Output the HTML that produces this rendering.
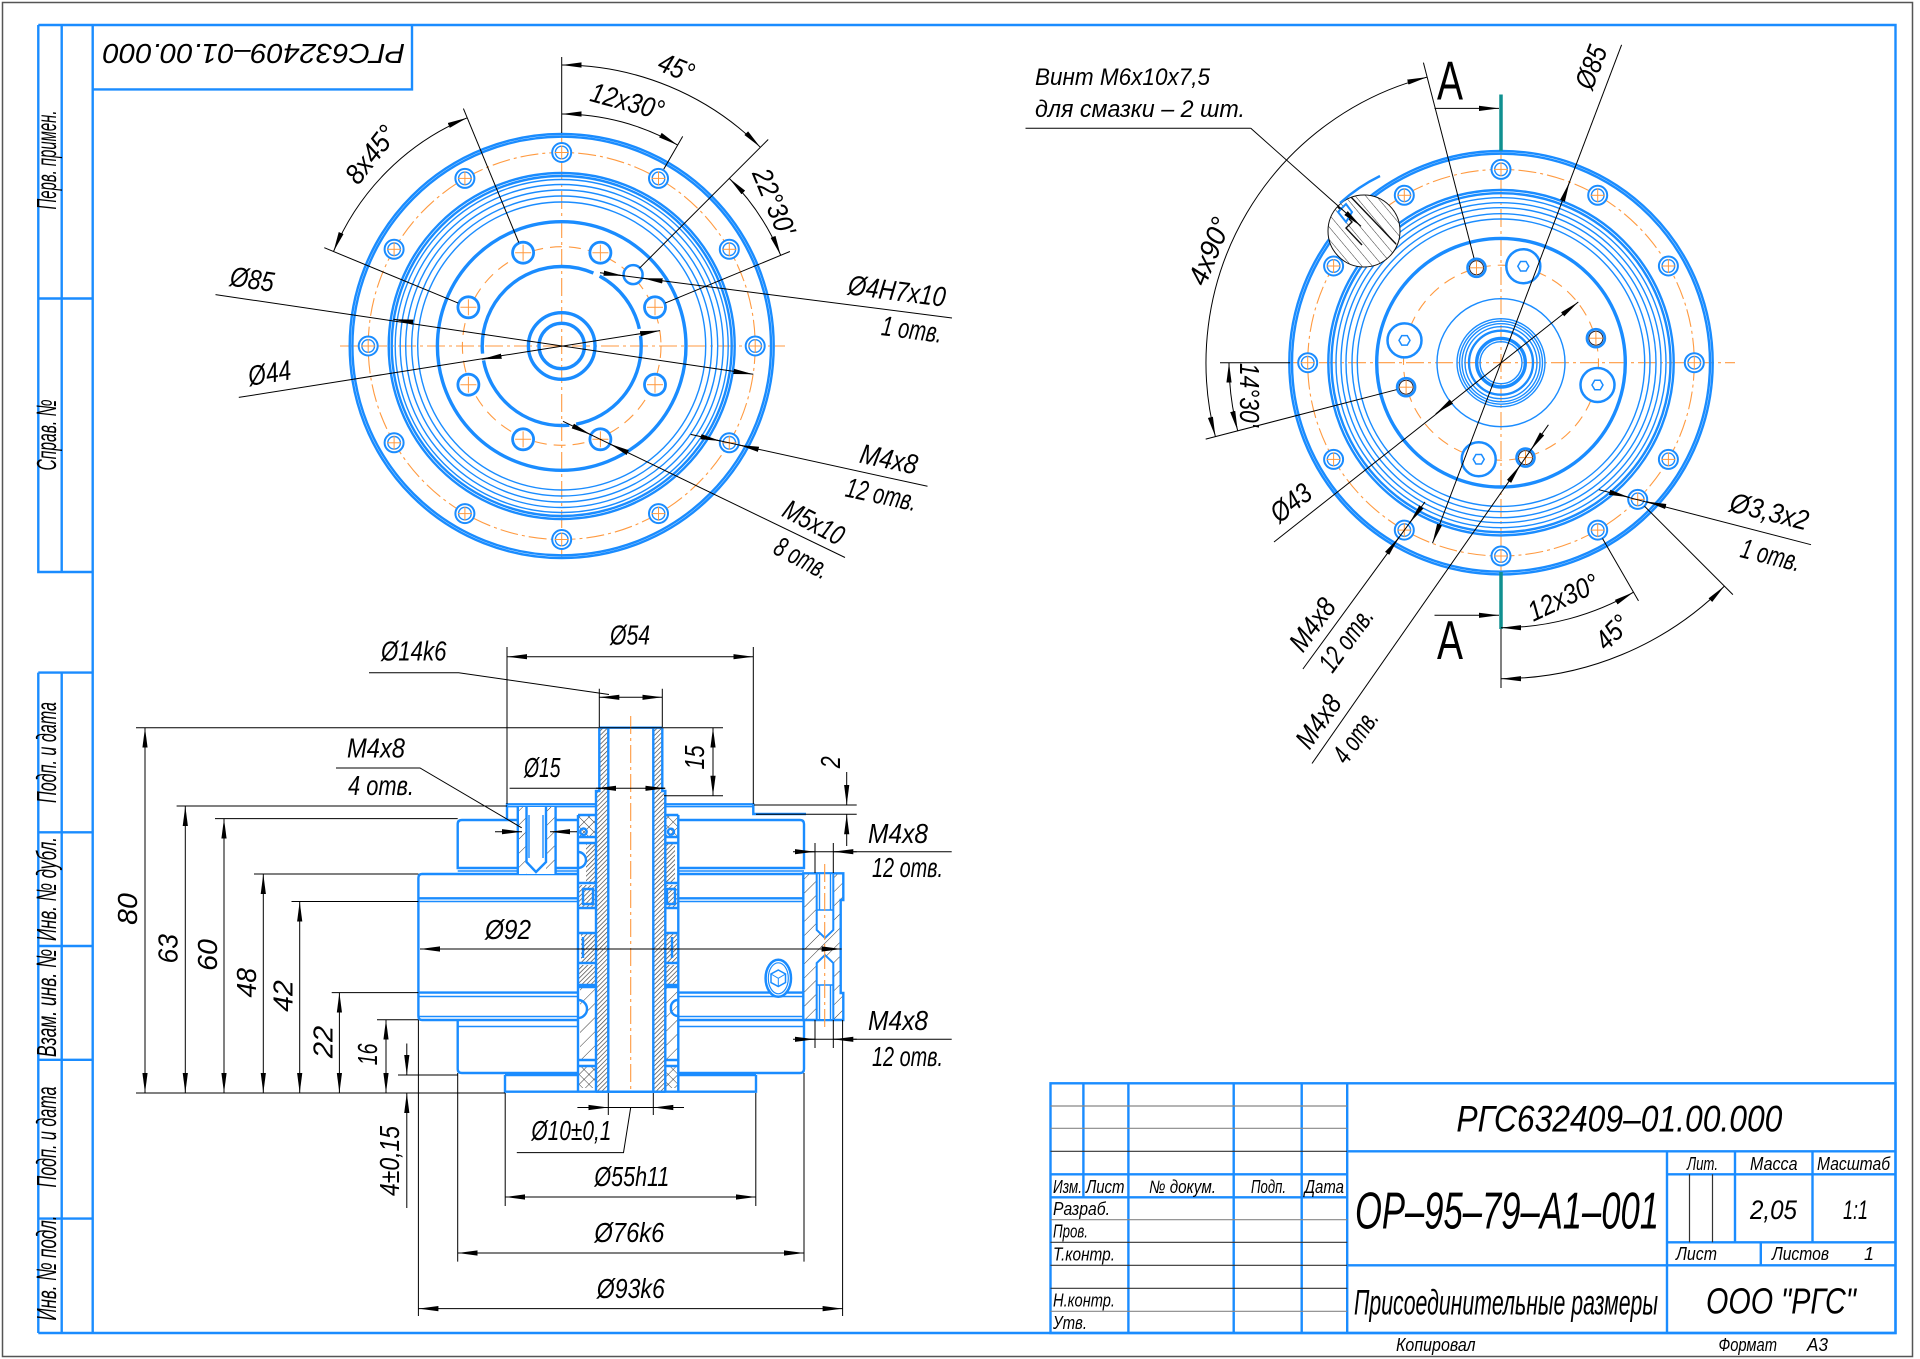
<!DOCTYPE html>
<html><head><meta charset="utf-8"><style>body{margin:0;background:#fff}svg{display:block}</style></head>
<body>
<svg width="1920" height="1359" viewBox="0 0 1920 1359" xmlns="http://www.w3.org/2000/svg">
<defs>
<style>
.b{stroke:#1a8cff;fill:none;stroke-width:2.4}
.bb{stroke:#1a8cff;fill:none;stroke-width:3.4}
.bt{stroke:#1a8cff;fill:none;stroke-width:1.4}
.o{stroke:#ff9a40;fill:none;stroke-width:1.1;stroke-dasharray:18 4 3 4}
.od{stroke:#ff9a40;fill:none;stroke-width:1.1;stroke-dasharray:12 7}
.d{stroke:#000;fill:none;stroke-width:1}
.g{stroke:#666;fill:none;stroke-width:1}
.gl{stroke:#444;fill:none;stroke-width:1.2}
.t{font-family:"Liberation Sans",sans-serif;font-style:italic;fill:#000;font-size:28px}
.s{font-size:18px}
.a{marker-end:url(#ar)}
.aa{marker-end:url(#ar);marker-start:url(#ar)}
</style>
<marker id="ar" viewBox="0 0 20 6" refX="20" refY="3" markerWidth="20" markerHeight="6" orient="auto-start-reverse" markerUnits="userSpaceOnUse"><path d="M0,0.4L20,3L0,5.6z" fill="#000"/></marker>
<pattern id="hf" width="3.2" height="3.2" patternUnits="userSpaceOnUse" patternTransform="rotate(45)"><rect width="3.2" height="3.2" fill="#fff"/><line x1="0" y1="0" x2="0" y2="3.2" stroke="#444" stroke-width="1.4"/></pattern>
<pattern id="hc" width="10" height="10" patternUnits="userSpaceOnUse" patternTransform="rotate(45)"><rect width="10" height="10" fill="#fff"/><line x1="0" y1="0" x2="0" y2="10" stroke="#222" stroke-width="0.9"/></pattern>
<pattern id="hx" width="7" height="7" patternUnits="userSpaceOnUse" patternTransform="rotate(45)"><rect width="7" height="7" fill="#fff"/><line x1="0" y1="0" x2="0" y2="7" stroke="#222" stroke-width="0.9"/><line x1="0" y1="0" x2="7" y2="0" stroke="#222" stroke-width="0.9"/></pattern>
<pattern id="hv" width="8" height="8" patternUnits="userSpaceOnUse" patternTransform="rotate(-40)"><rect width="8" height="8" fill="#fff"/><line x1="0" y1="0" x2="0" y2="8" stroke="#222" stroke-width="0.9"/></pattern>
<clipPath id="cc"><circle cx="1364" cy="231" r="36"/></clipPath>
<g id="h12"><circle r="9.5" stroke="#1a8cff" stroke-width="2" fill="#fff"/><circle r="6.3" stroke="#1a8cff" stroke-width="1.4" fill="none"/><line x1="-7" y1="0" x2="7" y2="0" stroke="#ff9a40" stroke-width="1"/><line x1="0" y1="-7" x2="0" y2="7" stroke="#ff9a40" stroke-width="1"/></g>
<g id="h8"><circle r="10.5" stroke="#1a8cff" stroke-width="2.8" fill="#fff"/><line x1="-8" y1="0" x2="8" y2="0" stroke="#ff9a40" stroke-width="1"/><line x1="0" y1="-8" x2="0" y2="8" stroke="#ff9a40" stroke-width="1"/></g>
<g id="hs"><circle r="9" stroke="#1a8cff" stroke-width="2.6" fill="#fff"/><circle r="7" stroke="#223" stroke-width="1" fill="none"/><line x1="-7" y1="0" x2="7" y2="0" stroke="#ff9a40" stroke-width="1"/><line x1="0" y1="-7" x2="0" y2="7" stroke="#ff9a40" stroke-width="1"/></g>
<g id="hh"><circle r="17" stroke="#1a8cff" stroke-width="2.5" fill="#fff"/><polygon points="5.5,0 2.75,4.76 -2.75,4.76 -5.5,0 -2.75,-4.76 2.75,-4.76" stroke="#1a8cff" stroke-width="1.5" fill="none"/></g>
</defs>

<rect x="0" y="0" width="1920" height="1359" fill="#fff"/>
<rect x="2.5" y="2.5" width="1910" height="1354" fill="none" stroke="#555" stroke-width="1.5"/>

<!-- FRAME -->
<g class="b">
<path d="M38.3,25H1895.5V1333H38.3"/>
<path d="M92.7,25V1333"/>
<path d="M38.3,25V572H92.7M61.7,25V572M38.3,298.5H92.7"/>
<path d="M38.3,672.6H92.7M38.3,672.6V1333M61.7,672.6V1333M38.3,832.3H92.7M38.3,946H92.7M38.3,1059.8H92.7M38.3,1218.6H92.7"/>
<path d="M93,89.4H412V25"/>
</g>
<g class="t" font-size="17">
<text transform="translate(56,160) rotate(-90)" text-anchor="middle" textLength="99" lengthAdjust="spacingAndGlyphs">Перв. примен.</text>
<text transform="translate(56,435) rotate(-90)" text-anchor="middle" textLength="71" lengthAdjust="spacingAndGlyphs">Справ. №</text>
<text transform="translate(56,752.5) rotate(-90)" text-anchor="middle" textLength="101" lengthAdjust="spacingAndGlyphs">Подп. и дата</text>
<text transform="translate(56,889) rotate(-90)" text-anchor="middle" textLength="104" lengthAdjust="spacingAndGlyphs">Инв. № дубл.</text>
<text transform="translate(56,1003) rotate(-90)" text-anchor="middle" textLength="108" lengthAdjust="spacingAndGlyphs">Взам. инв. №</text>
<text transform="translate(56,1137) rotate(-90)" text-anchor="middle" textLength="101" lengthAdjust="spacingAndGlyphs">Подп. и дата</text>
<text transform="translate(56,1268) rotate(-90)" text-anchor="middle" textLength="105" lengthAdjust="spacingAndGlyphs">Инв. № подл.</text>
</g>
<text class="t" transform="translate(254,57.4) rotate(180)" y="13.5" text-anchor="middle" font-size="37" textLength="302" lengthAdjust="spacingAndGlyphs">РГС632409–01.00.000</text>

<!-- LEFT VIEW -->
<g>
<line class="o" x1="340" y1="346" x2="785" y2="346"/>
<line class="o" x1="561.7" y1="133" x2="561.7" y2="560"/>
<circle class="o" cx="561.7" cy="346" r="193.5"/>
<circle class="od" cx="561.7" cy="346" r="99.3"/>
<circle class="b" cx="561.7" cy="346" r="212" stroke-width="2.2"/>
<circle class="b" cx="561.7" cy="346" r="209.3" stroke-width="1.8"/>
<circle class="b" cx="561.7" cy="346" r="173" stroke-width="2.2"/>
<circle class="b" cx="561.7" cy="346" r="170" stroke-width="2"/>
<circle class="bt" cx="561.7" cy="346" r="166.5"/>
<circle class="bt" cx="561.7" cy="346" r="161.5"/>
<circle class="bt" cx="561.7" cy="346" r="156"/>
<circle class="bt" cx="561.7" cy="346" r="150"/>
<circle class="bt" cx="561.7" cy="346" r="144"/>
<circle class="bb" cx="561.7" cy="346" r="124.3" stroke-width="3.2"/>
<circle class="bb" cx="561.7" cy="346" r="79.5" stroke-width="3.6" stroke-dasharray="110.3 6.9 117.9 6.9 165.1 6.9 68 6.9 10.4"/>
<circle class="bb" cx="561.7" cy="346" r="33.3" stroke-width="3"/>
<circle class="bb" cx="561.7" cy="346" r="22.7" stroke-width="3"/>
<use href="#h12" x="561.7" y="152.5"/><use href="#h12" x="658.5" y="178.4"/><use href="#h12" x="729.3" y="249.3"/><use href="#h12" x="755.2" y="346"/>
<use href="#h12" x="729.3" y="442.8"/><use href="#h12" x="658.5" y="513.6"/><use href="#h12" x="561.7" y="539.5"/><use href="#h12" x="464.9" y="513.6"/>
<use href="#h12" x="394.1" y="442.8"/><use href="#h12" x="368.2" y="346"/><use href="#h12" x="394.1" y="249.3"/><use href="#h12" x="464.9" y="178.4"/>
<use href="#h8" x="600.4" y="252.7"/><use href="#h8" x="655" y="307.3"/><use href="#h8" x="655" y="384.7"/><use href="#h8" x="600.4" y="439.3"/>
<use href="#h8" x="523.1" y="439.3"/><use href="#h8" x="468.4" y="384.7"/><use href="#h8" x="468.4" y="307.3"/><use href="#h8" x="523.1" y="252.7"/>
<circle cx="633.1" cy="274.6" r="9.5" stroke="#1a8cff" stroke-width="2.5" fill="#fff"/>
</g>
<!-- left view dims -->
<g class="d">
<line x1="561.7" y1="57" x2="561.7" y2="133"/>
<line x1="639.5" y1="268.2" x2="768.2" y2="139.5"/>
<line x1="663.7" y1="169.3" x2="682.7" y2="136.4"/>
<line x1="665.2" y1="303.1" x2="789.9" y2="251.5"/>
<line x1="518.8" y1="242.5" x2="463.4" y2="108.6"/>
<line x1="458.2" y1="303.1" x2="324.3" y2="247.7"/>
<path class="aa" d="M561.7,65 A281,281 0 0,1 760.4,147.3"/>
<path class="aa" d="M561.7,114 A232,232 0 0,1 677.7,145.1"/>
<path class="aa" d="M729.3,178.4 A237,237 0 0,1 780.7,255.3"/>
<path class="aa" d="M467.2,117.8 A247,247 0 0,0 333.5,251.5"/>
<path class="a" d="M215.5,294.6 L753.3,374.3"/>
<path class="a" d="M413.1,322.2 L393.3,319.3"/>
<path class="a" d="M238.8,397.4 L660,330.6"/>
<path class="a" d="M501.5,356.2 L481.7,359.3"/>
<line x1="600" y1="272.8" x2="952" y2="318"/>
<path class="a" d="M603.7,273.2 L623.5,275.8"/>
<path class="a" d="M662.5,280.9 L642.7,278.3"/>
<line x1="690.6" y1="434.4" x2="927.5" y2="486.3"/>
<path class="a" d="M700.9,436.7 L720.4,441"/>
<path class="a" d="M758.5,449.3 L739,445"/>
<line x1="563" y1="421.3" x2="845" y2="557.5"/>
<path class="a" d="M572.8,426 L590.8,434.7"/>
<path class="a" d="M627.8,452.6 L609.8,443.9"/>
</g>
<g class="t">
<text transform="translate(676.5,67.2) rotate(22)" y="10" text-anchor="middle" textLength="36" lengthAdjust="spacingAndGlyphs">45°</text>
<text transform="translate(627.5,100.8) rotate(15)" y="10" text-anchor="middle" textLength="75" lengthAdjust="spacingAndGlyphs">12x30°</text>
<text transform="translate(774.4,201.7) rotate(67.5)" y="10" text-anchor="middle" textLength="70" lengthAdjust="spacingAndGlyphs">22°30'</text>
<text transform="translate(370.4,154.2) rotate(-52)" y="10" text-anchor="middle" textLength="65" lengthAdjust="spacingAndGlyphs">8x45°</text>
<text transform="translate(252.2,278.8) rotate(8.4)" y="10" text-anchor="middle" textLength="44" lengthAdjust="spacingAndGlyphs">Ø85</text>
<text transform="translate(269.4,372.6) rotate(-9)" y="10" text-anchor="middle" textLength="43" lengthAdjust="spacingAndGlyphs">Ø44</text>
<text transform="translate(897,290.6) rotate(7.4)" y="10" text-anchor="middle" textLength="98" lengthAdjust="spacingAndGlyphs">Ø4H7x10</text>
<text transform="translate(912,329) rotate(7.4)" y="10" text-anchor="middle" textLength="61" lengthAdjust="spacingAndGlyphs">1 отв.</text>
<text transform="translate(889,458.7) rotate(12)" y="10" text-anchor="middle" textLength="58" lengthAdjust="spacingAndGlyphs">M4x8</text>
<text transform="translate(881.6,494) rotate(12)" y="10" text-anchor="middle" textLength="72" lengthAdjust="spacingAndGlyphs">12 отв.</text>
<text transform="translate(814,522) rotate(28)" y="10" text-anchor="middle" textLength="65" lengthAdjust="spacingAndGlyphs">M5x10</text>
<text transform="translate(802,557.5) rotate(28)" y="10" text-anchor="middle" textLength="58" lengthAdjust="spacingAndGlyphs">8 отв.</text>
</g>

<!-- RIGHT VIEW -->
<g>
<line class="o" x1="1290" y1="362.7" x2="1735" y2="362.7"/>
<line class="o" x1="1501" y1="151" x2="1501" y2="572"/>
<circle class="o" cx="1501" cy="362.7" r="193.3"/>
<circle class="od" cx="1501" cy="362.7" r="97.5"/>
<circle class="b" cx="1501" cy="362.7" r="211.7" stroke-width="2.2"/>
<circle class="b" cx="1501" cy="362.7" r="209" stroke-width="1.8"/>
<circle class="b" cx="1501" cy="362.7" r="172.7" stroke-width="2.2"/>
<circle class="b" cx="1501" cy="362.7" r="169.5" stroke-width="2"/>
<circle class="bt" cx="1501" cy="362.7" r="165"/>
<circle class="bt" cx="1501" cy="362.7" r="160"/>
<circle class="bt" cx="1501" cy="362.7" r="155"/>
<circle class="bt" cx="1501" cy="362.7" r="149"/>
<circle class="bt" cx="1501" cy="362.7" r="143.7"/>
<circle class="bb" cx="1501" cy="362.7" r="124.3" stroke-width="3.4"/>
<circle class="bt" cx="1501" cy="362.7" r="64" stroke-width="1.3"/>
<circle class="bt" cx="1501" cy="362.7" r="44"/>
<circle class="bt" cx="1501" cy="362.7" r="41.5"/>
<circle class="bt" cx="1501" cy="362.7" r="39"/>
<circle class="bt" cx="1501" cy="362.7" r="36"/>
<circle class="b" cx="1501" cy="362.7" r="32" stroke-width="2"/>
<circle class="bb" cx="1501" cy="362.7" r="24.3" stroke-width="3"/>
<circle class="bt" cx="1501" cy="362.7" r="21"/>
<use href="#h12" x="1501" y="169.4"/><use href="#h12" x="1597.7" y="195.3"/><use href="#h12" x="1668.4" y="266"/><use href="#h12" x="1694.3" y="362.7"/>
<use href="#h12" x="1668.4" y="459.4"/><use href="#h12" x="1597.7" y="530.1"/><use href="#h12" x="1501" y="556"/><use href="#h12" x="1404.3" y="530.1"/>
<use href="#h12" x="1333.6" y="459.4"/><use href="#h12" x="1307.7" y="362.7"/><use href="#h12" x="1333.6" y="266"/><use href="#h12" x="1404.3" y="195.3"/>
<use href="#h12" x="1637.7" y="499.4"/>
<use href="#hs" x="1476.5" y="267.8"/><use href="#hs" x="1595.9" y="338.2"/><use href="#hs" x="1525.5" y="457.6"/><use href="#hs" x="1406.1" y="387.2"/>
<use href="#hh" x="1523.3" y="266.2"/><use href="#hh" x="1597.5" y="385"/><use href="#hh" x="1478.7" y="459.2"/><use href="#hh" x="1404.5" y="340.4"/>
<!-- hatched local section -->
<g clip-path="url(#cc)">
<rect x="1320" y="190" width="90" height="90" fill="url(#hv)"/>
<path d="M1336,205 L1352,222 L1346,228 L1362,245 M1350,196 L1396,244" stroke="#111" stroke-width="1.4" fill="none"/>
<path d="M1338,212 L1346,204 L1352,212 L1346,222 Z" stroke="#1a8cff" stroke-width="2" fill="#fff"/>
</g>
<circle cx="1364" cy="231" r="36" fill="none" stroke="#111" stroke-width="1"/>
<path d="M1340,203 A173,173 0 0,1 1380,176" class="b" stroke-width="2.2"/>
<!-- section line A -->
<line x1="1501" y1="94.5" x2="1501" y2="150.7" stroke="#0f9090" stroke-width="3.5"/>
<line x1="1501" y1="572" x2="1501" y2="629" stroke="#0f9090" stroke-width="3.5"/>
</g>
<g class="d">
<path class="a" d="M1434.5,108.4 L1499,108.4"/>
<path class="a" d="M1434.5,615.3 L1499,615.3"/>
<line x1="1474" y1="258.1" x2="1423.4" y2="62.6"/>
<line x1="1396.4" y1="389.7" x2="1205.7" y2="439.1"/>
<line x1="1220" y1="362.7" x2="1290" y2="362.7"/>
<line x1="1501" y1="629" x2="1501" y2="688"/>
<line x1="1602.5" y1="538.5" x2="1638.5" y2="600.9"/>
<line x1="1644.5" y1="506.2" x2="1732.9" y2="594.6"/>
<path class="aa" d="M1427.1,77.1 A295,295 0 0,0 1215.4,436.6"/>
<path class="aa" d="M1229,362.7 A272,272 0 0,0 1237.7,430.8"/>
<path class="aa" d="M1501,627.7 A265,265 0 0,0 1633.5,592.2"/>
<path class="aa" d="M1501,678.7 A316,316 0 0,0 1724.4,586.1"/>
<path class="a" d="M1621.6,44.8 L1432.5,543.2"/>
<path class="a" d="M1562.4,200.9 L1569.5,182.2"/>
<path class="a" d="M1274,542 L1578.3,302"/>
<path class="a" d="M1451.4,401.6 L1435.7,413.9"/>
<line x1="1598.9" y1="489.7" x2="1811" y2="544.7"/>
<path class="a" d="M1609.6,492.3 L1629,497.2"/>
<path class="a" d="M1665.8,506.5 L1646.4,501.6"/>
<line x1="1302.9" y1="669" x2="1425" y2="501.9"/>
<path class="a" d="M1387.1,553.4 L1399,537.3"/>
<path class="a" d="M1421.5,506.8 L1409.6,522.9"/>
<line x1="1312" y1="763.5" x2="1548.4" y2="424.8"/>
<path class="a" d="M1509,481.4 L1520.4,465"/>
<path class="a" d="M1542.1,433.8 L1530.6,450.2"/>
<path d="M1025.5,128.3 H1250.8"/>
<path class="a" d="M1250.8,128.3 L1361,226.3"/>
</g>
<g class="t">
<text x="1450" y="99.5" text-anchor="middle" font-style="normal" font-size="55" textLength="26" lengthAdjust="spacingAndGlyphs">А</text>
<text x="1450" y="659" text-anchor="middle" font-style="normal" font-size="55" textLength="26" lengthAdjust="spacingAndGlyphs">А</text>
<text x="1035" y="85" font-size="24" textLength="175" lengthAdjust="spacingAndGlyphs">Винт M6x10x7,5</text>
<text x="1035" y="117" font-size="24" textLength="210" lengthAdjust="spacingAndGlyphs">для смазки – 2 шт.</text>
<text transform="translate(1590.6,67) rotate(-69.2)" y="10" text-anchor="middle" textLength="44" lengthAdjust="spacingAndGlyphs">Ø85</text>
<text transform="translate(1209,251) rotate(-68)" y="10" text-anchor="middle" textLength="70" lengthAdjust="spacingAndGlyphs">4x90°</text>
<text transform="translate(1240,395) rotate(90)" text-anchor="middle" textLength="64" lengthAdjust="spacingAndGlyphs">14°30'</text>
<text transform="translate(1290.6,502.4) rotate(-38)" y="10" text-anchor="middle" textLength="44" lengthAdjust="spacingAndGlyphs">Ø43</text>
<text transform="translate(1769.5,511) rotate(14)" y="10" text-anchor="middle" textLength="80" lengthAdjust="spacingAndGlyphs">Ø3,3x2</text>
<text transform="translate(1771,554.6) rotate(14)" y="10" text-anchor="middle" textLength="61" lengthAdjust="spacingAndGlyphs">1 отв.</text>
<text transform="translate(1563,597) rotate(-25)" y="10" text-anchor="middle" textLength="75" lengthAdjust="spacingAndGlyphs">12x30°</text>
<text transform="translate(1612,632) rotate(-45)" y="10" text-anchor="middle" textLength="36" lengthAdjust="spacingAndGlyphs">45°</text>
<text transform="translate(1312,624.3) rotate(-53.6)" y="10" text-anchor="middle" textLength="58" lengthAdjust="spacingAndGlyphs">M4x8</text>
<text transform="translate(1345.7,639.2) rotate(-53.6)" y="10" text-anchor="middle" textLength="72" lengthAdjust="spacingAndGlyphs">12 отв.</text>
<text transform="translate(1318,721.2) rotate(-55)" y="10" text-anchor="middle" textLength="58" lengthAdjust="spacingAndGlyphs">M4x8</text>
<text transform="translate(1355,736) rotate(-55)" y="10" text-anchor="middle" textLength="58" lengthAdjust="spacingAndGlyphs">4 отв.</text>
</g>

<!-- SECTION VIEW -->
<g>
<!-- top plate -->
<path class="b" d="M507,820 V804.3 H596 M665.3,804.3 H753.3 V814 H806"/>
<path class="bt" d="M507,806.7 H596 M665.3,806.7 H753.3"/>
<!-- upper Ø76 -->
<path class="b" d="M578,820 H462 Q457.7,820 457.7,824 V868 H578 M678.3,820 H800 Q804,820 804,824 V868 H678.3"/>
<path class="bt" d="M457.7,871 H578 M678.3,871 H804"/>
<!-- Ø93 -->
<path class="b" d="M578,874 H422 Q418.4,874 418.4,878 V1016 Q418.4,1020 422,1020 H578 M678.3,874 H803.3 M678.3,1020 H803.3"/>
<path class="b" d="M418.4,898.3 H578 M678.3,898.3 H803.3 M418.4,992.6 H578 M678.3,992.6 H803.3"/>
<path class="bt" d="M418.4,901.5 H578 M678.3,901.5 H803.3 M418.4,996.5 H578 M678.3,996.5 H803.3 M418.4,1016.5 H578 M678.3,1016.5 H803.3"/>
<!-- lower Ø76 -->
<path class="b" d="M457.7,1020 V1069 Q457.7,1073 462,1073 H578 M804,1020 V1069 Q804,1073 800,1073 H678.3"/>
<path class="bt" d="M457.7,1026.5 H578 M678.3,1026.5 H804"/>
<!-- Ø55 bottom -->
<path class="b" d="M505,1075 V1091.7 H756 V1075 M505,1075 H578 M678.3,1075 H756"/>
<!-- left M4 hole at top -->
<rect x="517.8" y="807" width="37.8" height="67" fill="#fff"/>
<rect x="517.8" y="807" width="8.7" height="67" fill="url(#hc)"/>
<rect x="546" y="807" width="9.6" height="67" fill="url(#hc)"/>
<path class="b" d="M517.8,807 V874 M555.6,807 V874 M526.5,807 V862 L536,872 L546,862 V807" stroke-width="2"/>
<path class="bt" d="M529,815 V858 M543,815 V858" stroke="#1a8cff"/>
<!-- bearing columns -->
<rect x="578" y="815" width="18.7" height="22" fill="url(#hx)"/>
<rect x="586" y="843" width="10.7" height="40" fill="url(#hf)"/>
<rect x="578" y="885" width="18.7" height="23" fill="url(#hf)"/>
<rect x="581" y="933" width="15.7" height="30" fill="url(#hf)"/>
<rect x="578" y="965" width="18.7" height="20" fill="url(#hf)"/>
<rect x="580" y="987" width="16.7" height="73" fill="url(#hc)"/>
<rect x="578" y="1066" width="18.7" height="22" fill="url(#hx)"/>
<rect x="665" y="815" width="13.3" height="22" fill="url(#hx)"/>
<rect x="665" y="843" width="10" height="40" fill="url(#hf)"/>
<rect x="665" y="885" width="13.3" height="23" fill="url(#hf)"/>
<rect x="665" y="933" width="12" height="30" fill="url(#hf)"/>
<rect x="665" y="965" width="13.3" height="20" fill="url(#hf)"/>
<rect x="665" y="987" width="13.3" height="73" fill="url(#hc)"/>
<rect x="665" y="1066" width="13.3" height="22" fill="url(#hx)"/>
<g class="b" stroke-width="2">
<path d="M578,815 H596.7 M578,837 H596.7 M578,843 H596.7 M578,883 H596.7 M578,908 H596.7 M578,933 H596.7 M578,963 H596.7 M578,985 H596.7 M578,1060 H603 V987 H578 M578,1066 H596.7"/>
<path d="M665,815 H678.3 M665,837 H678.3 M665,843 H678.3 M665,883 H678.3 M665,908 H678.3 M665,933 H678.3 M665,963 H678.3 M665,985 H678.3 M665,1060 H678.3 M660,1060 V987 H678.3 M665,1066 H678.3"/>
<path d="M583,889 H593 V904 H583 Z M667,889 H675 V904 H667 Z M583,937 V958 M672,937 V958"/>
<circle cx="583.5" cy="831.7" r="3.2"/><circle cx="671" cy="831.7" r="3"/>
<path d="M578,852 A8,8 0 0,1 586,860 A8,8 0 0,1 578,868 M578,1000 A9,9 0 0,1 587,1009 A9,9 0 0,1 578,1018 M678.3,1000 A7,7 0 0,0 671,1008 A7,7 0 0,0 678.3,1016"/>
</g>
<path class="b" d="M578,815 V1091.7 M678.3,815 V1091.7"/>
<!-- shaft -->
<rect x="599.3" y="727.7" width="9" height="63" fill="url(#hf)"/>
<rect x="653.3" y="727.7" width="9" height="63" fill="url(#hf)"/>
<rect x="596" y="790.7" width="12.3" height="300.5" fill="url(#hf)"/>
<rect x="653.3" y="790.7" width="12" height="300.5" fill="url(#hf)"/>
<path class="b" d="M599.3,727.7 H662.3 M599.3,727.7 V791 H596 V1091.7 M662.3,727.7 V791 H665.3 V1091.7 M596,1091.7 H665.3" stroke-width="2.4"/>
<path class="b" d="M608.3,727.7 V1091.7 M653.3,727.7 V1091.7" stroke-width="1.6"/>
<line class="o" x1="630.7" y1="716" x2="630.7" y2="1092"/>
<!-- right hatched section -->
<path d="M803.3,873.3 H843.3 V900 H840.7 V993 H843.3 V1020 H803.3 Z" fill="url(#hc)" stroke="#1a8cff" stroke-width="2.4"/>
<path d="M816.7,873.3 V930 L825,938 L833.3,930 V873.3 Z M816.7,1020 V963 L825,955 L833.3,963 V1020 Z" fill="#fff" stroke="#1a8cff" stroke-width="2"/>
<path class="bt" d="M819.5,874 V910 M830.5,874 V910 M819.5,985 V1019 M830.5,985 V1019 M816.7,910 H833.3 M816.7,985 H833.3"/>
<line class="o" x1="824.7" y1="864" x2="824.7" y2="1030"/>
<!-- hex screw -->
<ellipse cx="778.3" cy="978.3" rx="12.7" ry="18.5" fill="#fff" stroke="#1a8cff" stroke-width="2.5"/>
<ellipse cx="778.3" cy="978.3" rx="10" ry="15.5" fill="none" stroke="#1a8cff" stroke-width="1.2"/>
<polygon points="778.3,970 785.5,974 785.5,982.5 778.3,986.5 771,982.5 771,974" fill="none" stroke="#1a8cff" stroke-width="1.5"/>
<path d="M771,974 L778.3,978.3 L785.5,974 M778.3,978.3 V986.5" stroke="#1a8cff" stroke-width="1" fill="none"/>
</g>
<!-- section dims -->
<g class="d">
<path d="M136,727.7 H723 M664,795.7 H723 M176.6,806 H507 M754,805 H856.7 M756,814.3 H856.7 M215,818.6 H457.7 M254,874 H418.4 M291.5,901.5 H418.4 M331.7,992.6 H418.4 M377,1019.7 H418.4 M398,1075 H457.7 M136,1093 H505"/>
<path d="M507,647 V804 M753.3,647 V804 M599.3,688.7 V727 M662.3,688.7 V727"/>
<path d="M418.4,1020 V1316 M842.6,1020 V1316 M457.7,1073 V1261.6 M804,1073 V1261.6 M505.2,1093 V1206 M755.8,1093 V1206 M608.3,1093 V1115 M653.3,1093 V1115"/>
<path d="M815,843 V873 M833.3,843 V873 M815,1020 V1048 M833.3,1020 V1048"/>
<path class="aa" d="M507,656.7 H753.3"/>
<path class="aa" d="M599.3,697.3 H662.3"/>
<path d="M369,672.7 H458.7 L609,694.5"/>
<line x1="509.6" y1="788.3" x2="665" y2="788.3"/>
<path class="a" d="M616,788.3 H596"/>
<path class="a" d="M645,788.3 H665.3"/>
<path class="aa" d="M713,727.7 V795.7"/>
<path class="a" d="M846.7,772 V805"/>
<path class="a" d="M846.7,846 V814.3"/>
<path class="aa" d="M145,727.7 V1093"/>
<path class="aa" d="M185.3,806 V1093"/>
<path class="aa" d="M224,818.6 V1093"/>
<path class="aa" d="M263.3,874 V1093"/>
<path class="aa" d="M299.7,901.5 V1093"/>
<path class="aa" d="M339.4,992.6 V1093"/>
<path class="aa" d="M386,1019.7 V1093"/>
<path class="a" d="M406.8,1043.5 V1075"/>
<path class="a" d="M406.8,1208 V1093"/>
<path class="aa" d="M420,949 H841.6"/>
<line x1="577.4" y1="1107.5" x2="684" y2="1107.5"/>
<path class="a" d="M586,1107.5 H608.3"/>
<path class="a" d="M676,1107.5 H653.3"/>
<path d="M630.7,1107.5 L623.5,1152.6 H516.8"/>
<path class="aa" d="M505.2,1197 H755.8"/>
<path class="aa" d="M457.7,1253 H804"/>
<path class="aa" d="M418.4,1308.6 H842.6"/>
<path d="M336,768 H420 L521.7,827.8"/>
<path class="a" d="M495,831.7 H522"/>
<path class="a" d="M577,831.7 H550"/>
<line x1="793" y1="851.7" x2="951.7" y2="851.7"/>
<path class="a" d="M795,851.7 H815"/>
<path class="a" d="M856.7,851.7 H833.3"/>
<line x1="793" y1="1039.3" x2="951.7" y2="1039.3"/>
<path class="a" d="M795,1039.3 H815"/>
<path class="a" d="M856.7,1039.3 H833.3"/>
</g>
<g class="t">
<text x="610" y="644.6" textLength="40" lengthAdjust="spacingAndGlyphs">Ø54</text>
<text x="381" y="660.6" textLength="65.5" lengthAdjust="spacingAndGlyphs">Ø14k6</text>
<text x="524" y="777" textLength="36.5" lengthAdjust="spacingAndGlyphs">Ø15</text>
<text x="347" y="757.5" textLength="58" lengthAdjust="spacingAndGlyphs">M4x8</text>
<text x="348" y="795" textLength="66" lengthAdjust="spacingAndGlyphs">4 отв.</text>
<text x="485" y="939" textLength="46" lengthAdjust="spacingAndGlyphs">Ø92</text>
<text x="531.4" y="1140" textLength="80" lengthAdjust="spacingAndGlyphs">Ø10±0,1</text>
<text x="594.4" y="1186" textLength="75" lengthAdjust="spacingAndGlyphs">Ø55h11</text>
<text x="594.4" y="1242" textLength="70" lengthAdjust="spacingAndGlyphs">Ø76k6</text>
<text x="596.8" y="1298" textLength="68" lengthAdjust="spacingAndGlyphs">Ø93k6</text>
<text x="868" y="843" textLength="60" lengthAdjust="spacingAndGlyphs">M4x8</text>
<text x="872" y="877" textLength="71" lengthAdjust="spacingAndGlyphs">12 отв.</text>
<text x="868" y="1030" textLength="60" lengthAdjust="spacingAndGlyphs">M4x8</text>
<text x="872" y="1066" textLength="71" lengthAdjust="spacingAndGlyphs">12 отв.</text>
<text transform="translate(137,909) rotate(-90)" text-anchor="middle" textLength="31.7" lengthAdjust="spacingAndGlyphs">80</text>
<text transform="translate(177.5,948.8) rotate(-90)" text-anchor="middle" textLength="29.5" lengthAdjust="spacingAndGlyphs">63</text>
<text transform="translate(217,955) rotate(-90)" text-anchor="middle" textLength="31.8" lengthAdjust="spacingAndGlyphs">60</text>
<text transform="translate(256,982.8) rotate(-90)" text-anchor="middle" textLength="29.5" lengthAdjust="spacingAndGlyphs">48</text>
<text transform="translate(292.5,996) rotate(-90)" text-anchor="middle" textLength="31.5" lengthAdjust="spacingAndGlyphs">42</text>
<text transform="translate(332.5,1042) rotate(-90)" text-anchor="middle" textLength="32.4" lengthAdjust="spacingAndGlyphs">22</text>
<text transform="translate(377,1054.4) rotate(-90)" text-anchor="middle" textLength="21.8" lengthAdjust="spacingAndGlyphs">16</text>
<text transform="translate(399,1161) rotate(-90)" text-anchor="middle" textLength="70" lengthAdjust="spacingAndGlyphs">4±0,15</text>
<text transform="translate(704,757.5) rotate(-90)" text-anchor="middle" textLength="24" lengthAdjust="spacingAndGlyphs">15</text>
<text transform="translate(840,762.3) rotate(-90)" text-anchor="middle" textLength="12" lengthAdjust="spacingAndGlyphs">2</text>
</g>

<!-- TITLE BLOCK -->
<g>
<rect x="1050.5" y="1083.3" width="845" height="249.7" fill="none" stroke="#1a8cff" stroke-width="2.4"/>
<path class="b" d="M1083.4,1083.3 V1197.3 M1128.4,1083.3 V1333 M1233.7,1083.3 V1333 M1301.7,1083.3 V1333 M1347.2,1083.3 V1333"/>
<path d="M1050.5,1106 H1347.2 M1050.5,1128.3 H1347.2 M1050.5,1219.7 H1347.2 M1050.5,1311.3 H1347.2" stroke="#888" stroke-width="1.2"/>
<path d="M1050.5,1151.3 H1347.2 M1050.5,1242.3 H1347.2 M1050.5,1265.3 H1347.2 M1050.5,1288.3 H1347.2" stroke="#333" stroke-width="1.2"/>
<path class="b" d="M1050.5,1174.3 H1347.2 M1050.5,1197.3 H1347.2"/>
<path class="b" d="M1347.2,1151.3 H1895.5 M1347.2,1265.3 H1895.5 M1667,1151.3 V1333 M1667,1174.3 H1895.5 M1667,1242.3 H1895.5 M1735,1151.3 V1242.3 M1812.5,1151.3 V1242.3 M1760.8,1242.3 V1265.3"/>
<path d="M1689.5,1174.3 V1242.3 M1712.5,1174.3 V1242.3" stroke="#333" stroke-width="1.2"/>
</g>
<g class="t">
<text x="1456.4" y="1131.7" font-size="37" textLength="326" lengthAdjust="spacingAndGlyphs">РГС632409–01.00.000</text>
<text x="1355" y="1228.3" font-size="52" textLength="304" lengthAdjust="spacingAndGlyphs">ОР–95–79–А1–001</text>
<text x="1354" y="1314.3" font-size="35" textLength="304" lengthAdjust="spacingAndGlyphs">Присоединительные размеры</text>
<text x="1706" y="1313.3" font-size="36" textLength="150" lengthAdjust="spacingAndGlyphs">ООО "РГС"</text>
<text class="s" x="1687" y="1170" textLength="31" lengthAdjust="spacingAndGlyphs">Лит.</text>
<text class="s" x="1750" y="1170" textLength="47.5" lengthAdjust="spacingAndGlyphs">Масса</text>
<text class="s" x="1817" y="1170" textLength="73" lengthAdjust="spacingAndGlyphs">Масштаб</text>
<text x="1750" y="1219" font-size="27" textLength="47" lengthAdjust="spacingAndGlyphs">2,05</text>
<text x="1843" y="1219" font-size="27" textLength="25" lengthAdjust="spacingAndGlyphs">1:1</text>
<text class="s" x="1676" y="1260" textLength="41" lengthAdjust="spacingAndGlyphs">Лист</text>
<text class="s" x="1772" y="1260" textLength="57" lengthAdjust="spacingAndGlyphs">Листов</text>
<text class="s" x="1864" y="1260">1</text>
<text class="s" x="1053" y="1193" textLength="29" lengthAdjust="spacingAndGlyphs">Изм.</text>
<text class="s" x="1086" y="1193" textLength="38.5" lengthAdjust="spacingAndGlyphs">Лист</text>
<text class="s" x="1149" y="1193" textLength="67" lengthAdjust="spacingAndGlyphs">№ докум.</text>
<text class="s" x="1251" y="1193" textLength="35" lengthAdjust="spacingAndGlyphs">Подп.</text>
<text class="s" x="1304.5" y="1193" textLength="39.5" lengthAdjust="spacingAndGlyphs">Дата</text>
<text class="s" x="1053" y="1215" textLength="57" lengthAdjust="spacingAndGlyphs">Разраб.</text>
<text class="s" x="1053" y="1237.7" textLength="35" lengthAdjust="spacingAndGlyphs">Пров.</text>
<text class="s" x="1053" y="1260.7" textLength="62" lengthAdjust="spacingAndGlyphs">Т.контр.</text>
<text class="s" x="1053" y="1306.7" textLength="62" lengthAdjust="spacingAndGlyphs">Н.контр.</text>
<text class="s" x="1053" y="1329" textLength="34" lengthAdjust="spacingAndGlyphs">Утв.</text>
<text class="s" x="1396" y="1351" textLength="79.6" lengthAdjust="spacingAndGlyphs">Копировал</text>
<text class="s" x="1718.5" y="1351" textLength="58.5" lengthAdjust="spacingAndGlyphs">Формат</text>
<text class="s" x="1807" y="1351" textLength="21" lengthAdjust="spacingAndGlyphs">А3</text>
</g>
</svg>
</body></html>
